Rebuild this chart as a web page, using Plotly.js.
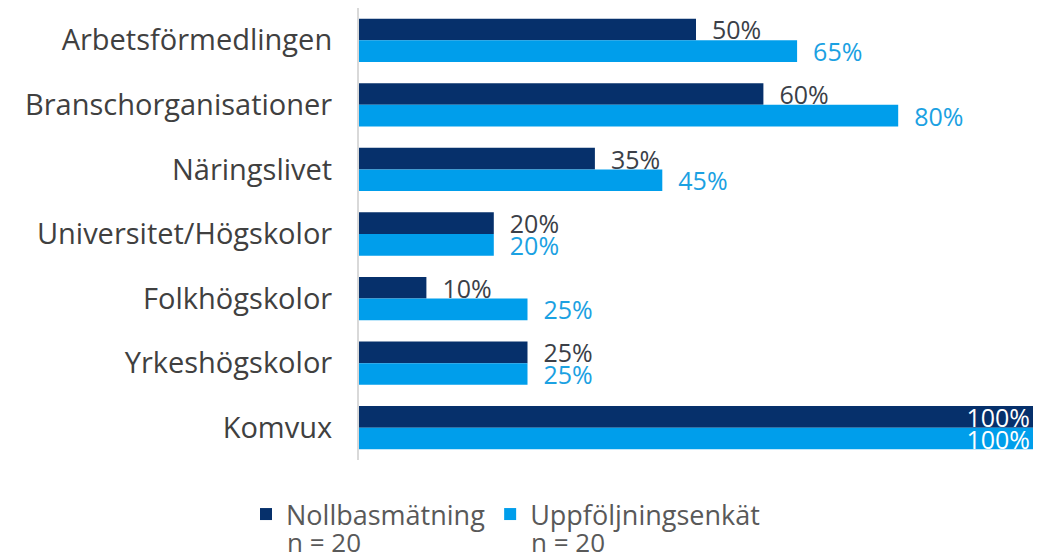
<!DOCTYPE html>
<html>
<head>
<meta charset="utf-8">
<script src="https://cdn.plot.ly/plotly-3.0.1.min.js"></script>
<style>html,body{margin:0;padding:0;background:#fff;}#chart{width:1043px;height:560px;}</style>
</head>
<body>
<div id="chart"></div>
<script>
const categories = ["Arbetsförmedlingen","Branschorganisationer","Näringslivet","Universitet/Högskolor","Folkhögskolor","Yrkeshögskolor","Komvux"];
const nollbas = [0.50,0.60,0.35,0.20,0.10,0.25,1.00];
const uppfoljning = [0.65,0.80,0.45,0.20,0.25,0.25,1.00];
const seriesNames = ["Nollbasmätning","Uppföljningsenkät"];
const sampleSizes = [20,20];

const FONT = '"Open Sans", sans-serif';
function mk(vals, name, color, labelColor){
  return {
    type:'bar', orientation:'h', y:categories, x:vals, name:name,
    marker:{color:color, line:{width:0}},
    textposition: vals.map(v => v >= 1 ? 'inside' : 'outside'),
    texttemplate: vals.map(v => v >= 1 ? '%{x:.0%}' : '\u00a0\u00a0%{x:.0%}'),
    insidetextanchor:'end',
    constraintext:'none',
    cliponaxis:false,
    textfont:{family:FONT, size:25},
    outsidetextfont:{family:FONT, size:25, color:labelColor},
    insidetextfont:{family:FONT, size:25, color:'#ffffff'},
    hoverinfo:'skip'
  };
}
const data = [
  mk(nollbas, seriesNames[0], '#06306B', '#3B3F48'),
  mk(uppfoljning, seriesNames[1], '#009EEB', '#1BA1E2')
];
const legendTextX = [-0.110, 0.252];
const annotations = sampleSizes.map((n, i) => ({
  xref:'paper', yref:'paper', x:legendTextX[i], y:-0.181, xanchor:'left', yanchor:'middle',
  text:'n = ' + n, showarrow:false, font:{family:FONT, size:26, color:'#595959'}
}));
const layout = {
  width:1043, height:560,
  margin:{l:359, r:10, t:8, b:100, pad:0},
  paper_bgcolor:'#fff', plot_bgcolor:'#fff',
  barmode:'group', bargap:0.33, bargroupgap:0,
  font:{family:FONT, color:'#404040'},
  xaxis:{range:[0,1], showticklabels:false, showgrid:false, zeroline:false, showline:false, ticks:''},
  yaxis:{autorange:'reversed', showline:true, linecolor:'#d9d9d9', linewidth:2, ticks:'', showgrid:false,
         tickfont:{family:FONT, size:29, color:'#404040'}, ticklabelstandoff:19},
  showlegend:true,
  legend:{orientation:'h', xref:'container', yref:'container', x:246/1043, xanchor:'left', y:0.125, yanchor:'top',
          font:{family:FONT, size:27, color:'#595959'}, valign:'middle',
          traceorder:'normal', itemclick:false},
  annotations: annotations
};
Plotly.newPlot('chart', data, layout, {staticPlot:true, displayModeBar:false});
</script>
</body>
</html>
